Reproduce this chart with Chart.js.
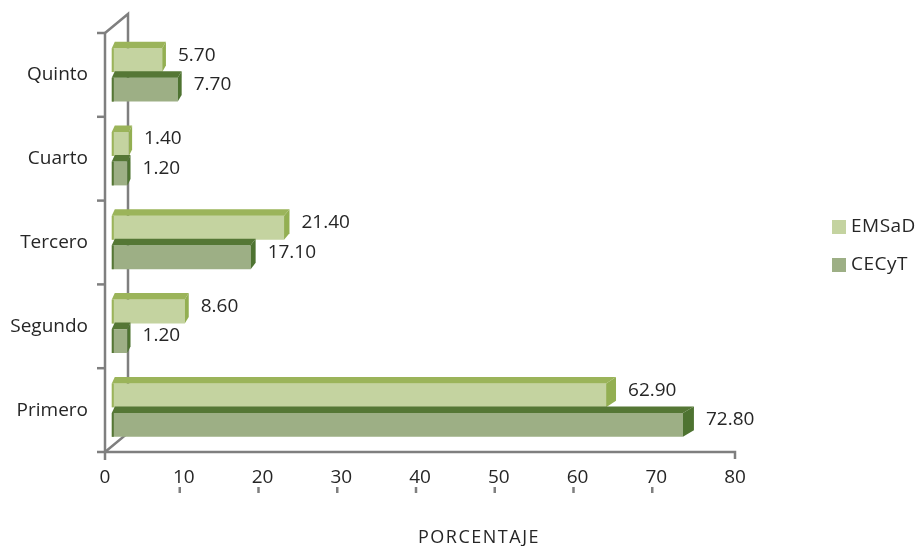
<!DOCTYPE html>
<html><head><meta charset="utf-8">
<script src="https://cdn.jsdelivr.net/npm/chart.js@4.4.1/dist/chart.umd.min.js"></script>
<style>html,body{margin:0;padding:0;background:#fff;}#wrap{width:920px;height:546px;}</style>
</head><body><div id="wrap"><canvas id="c" width="920" height="546"></canvas></div>
<script>
const categories = ['Quinto', 'Cuarto', 'Tercero', 'Segundo', 'Primero'];
const emsadValues = [5.70, 1.40, 21.40, 8.60, 62.90];
const cecytValues = [7.70, 1.20, 17.10, 1.20, 72.80];
const seriesNames = ['EMSaD', 'CECyT'];
const xTickValues = [0, 10, 20, 30, 40, 50, 60, 70, 80];
const axisTitle = 'PORCENTAJE';

const FONT = '"Open Sans", "Noto Sans", sans-serif';
const FS = 19;
const TEXT = '#262626';
const faces = [
  { front: '#c4d3a0', top: '#9bb45a', side: '#93af52' },
  { front: '#9daf85', top: '#557735', side: '#4e7331' }
];

const frame3d = {
  id: 'frame3d',
  beforeDatasetsDraw(chart) {
    const { ctx, chartArea: a, scales } = chart;
    const x = scales.x;
    ctx.save();
    ctx.strokeStyle = '#7f7f7f';
    ctx.lineWidth = 2.5;
    const depthX = 23, depthY = 19;
    ctx.beginPath();
    ctx.moveTo(a.left, a.top);
    ctx.lineTo(a.left + depthX, a.top - depthY);
    ctx.lineTo(a.left + depthX, a.bottom - depthY);
    ctx.lineTo(a.left, a.bottom);
    ctx.stroke();
    ctx.beginPath();
    ctx.moveTo(a.left, a.top);
    ctx.lineTo(a.left, a.bottom + 8);
    ctx.stroke();
    ctx.beginPath();
    ctx.moveTo(a.left, a.bottom);
    ctx.lineTo(a.right, a.bottom);
    ctx.lineTo(a.right, a.bottom + 7);
    ctx.stroke();
    const n = categories.length;
    for (let i = 0; i <= n; i++) {
      const yy = a.top + i * (a.bottom - a.top) / n;
      ctx.beginPath();
      ctx.moveTo(a.left - 8, yy);
      ctx.lineTo(a.left, yy);
      ctx.stroke();
    }
    xTickValues.slice(1, -1).forEach(v => {
      const px = x.getPixelForValue(v) - 4;
      ctx.beginPath();
      ctx.moveTo(px, a.bottom + 35);
      ctx.lineTo(px, a.bottom + 41);
      ctx.stroke();
    });
    ctx.fillStyle = TEXT;
    ctx.font = '18px ' + FONT;
    ctx.letterSpacing = '1.5px';
    ctx.textAlign = 'center';
    ctx.textBaseline = 'middle';
    ctx.fillText(axisTitle, (a.left + a.right) / 2 + 59, 538);
    ctx.restore();
  },
  afterDatasetsDraw(chart) {
    const { ctx, chartArea: a } = chart;
    const dxAt = px => 3 + 0.014 * (px - a.left - 7);
    const dy = 6.5;
    ctx.save();
    chart.data.datasets.forEach((ds, di) => {
      const meta = chart.getDatasetMeta(di);
      const f = faces[di];
      meta.data.forEach((bar, i) => {
        const p = bar.getProps(['x', 'y', 'base', 'height'], true);
        const x0 = Math.min(p.x, p.base), x1 = Math.max(p.x, p.base);
        const t = p.y - p.height / 2, b = p.y + p.height / 2;
        const d0 = dxAt(x0), d1 = dxAt(x1);
        ctx.fillStyle = f.top;
        ctx.beginPath();
        ctx.moveTo(x0, t); ctx.lineTo(x1, t);
        ctx.lineTo(x1 + d1, t - dy); ctx.lineTo(x0 + d0, t - dy);
        ctx.closePath(); ctx.fill();
        ctx.fillStyle = f.side;
        ctx.beginPath();
        ctx.moveTo(x1, t); ctx.lineTo(x1 + d1, t - dy);
        ctx.lineTo(x1 + d1, b - dy); ctx.lineTo(x1, b);
        ctx.closePath(); ctx.fill();
        ctx.fillStyle = f.top;
        ctx.fillRect(x0, t, 2, b - t);
        ctx.fillStyle = TEXT;
        ctx.font = FS + 'px ' + FONT;
        ctx.textAlign = 'left';
        ctx.textBaseline = 'middle';
        ctx.fillText(Number(ds.data[i]).toFixed(2), x1 + d1 + 12, p.y - 5);
      });
    });
    ctx.restore();
  },
  afterDraw(chart) {
    const ctx = chart.ctx;
    ctx.save();
    ctx.font = FS + 'px ' + FONT;
    ctx.letterSpacing = '0.5px';
    ctx.textAlign = 'left';
    ctx.textBaseline = 'middle';
    chart.data.datasets.forEach((ds, di) => {
      const cy = 227 + di * 38;
      ctx.fillStyle = faces[di].front;
      ctx.fillRect(832, cy - 7, 14, 14);
      ctx.fillStyle = TEXT;
      ctx.fillText(ds.label, 851, cy);
    });
    ctx.restore();
  }
};

new Chart(document.getElementById('c'), {
  type: 'bar',
  data: {
    labels: categories,
    datasets: [
      { label: seriesNames[0], data: emsadValues, backgroundColor: faces[0].front, xAxisID: 'xb', base: -0.8, categoryPercentage: 0.704, barPercentage: 0.81 },
      { label: seriesNames[1], data: cecytValues, backgroundColor: faces[1].front, xAxisID: 'xb', base: -0.8, categoryPercentage: 0.704, barPercentage: 0.81 }
    ]
  },
  options: {
    indexAxis: 'y',
    responsive: false,
    animation: false,
    devicePixelRatio: 1,
    layout: { padding: { left: 0, right: 185, top: 33, bottom: 0 } },
    plugins: { legend: { display: false }, tooltip: { enabled: false } },
    scales: {
      y: {
        type: 'category',
        grid: { display: false, drawTicks: false },
        border: { display: false },
        ticks: { font: { family: FONT, size: FS }, color: TEXT, padding: 17 },
        afterFit(s) { s.width = 105; }
      },
      x: {
        type: 'linear', position: 'bottom', min: 0, max: 80,
        afterBuildTicks(s) { s.ticks = xTickValues.map(v => ({ value: v })); },
        grid: { display: false, drawTicks: false },
        border: { display: false },
        ticks: { font: { family: FONT, size: FS }, color: TEXT, padding: 14, autoSkip: false, maxRotation: 0 },
        afterFit(s) { s.height = 94; }
      },
      xb: { type: 'linear', axis: 'x', position: 'bottom', display: false, min: -1.675, max: 79.51 }
    }
  },
  plugins: [frame3d]
});
</script></body></html>
